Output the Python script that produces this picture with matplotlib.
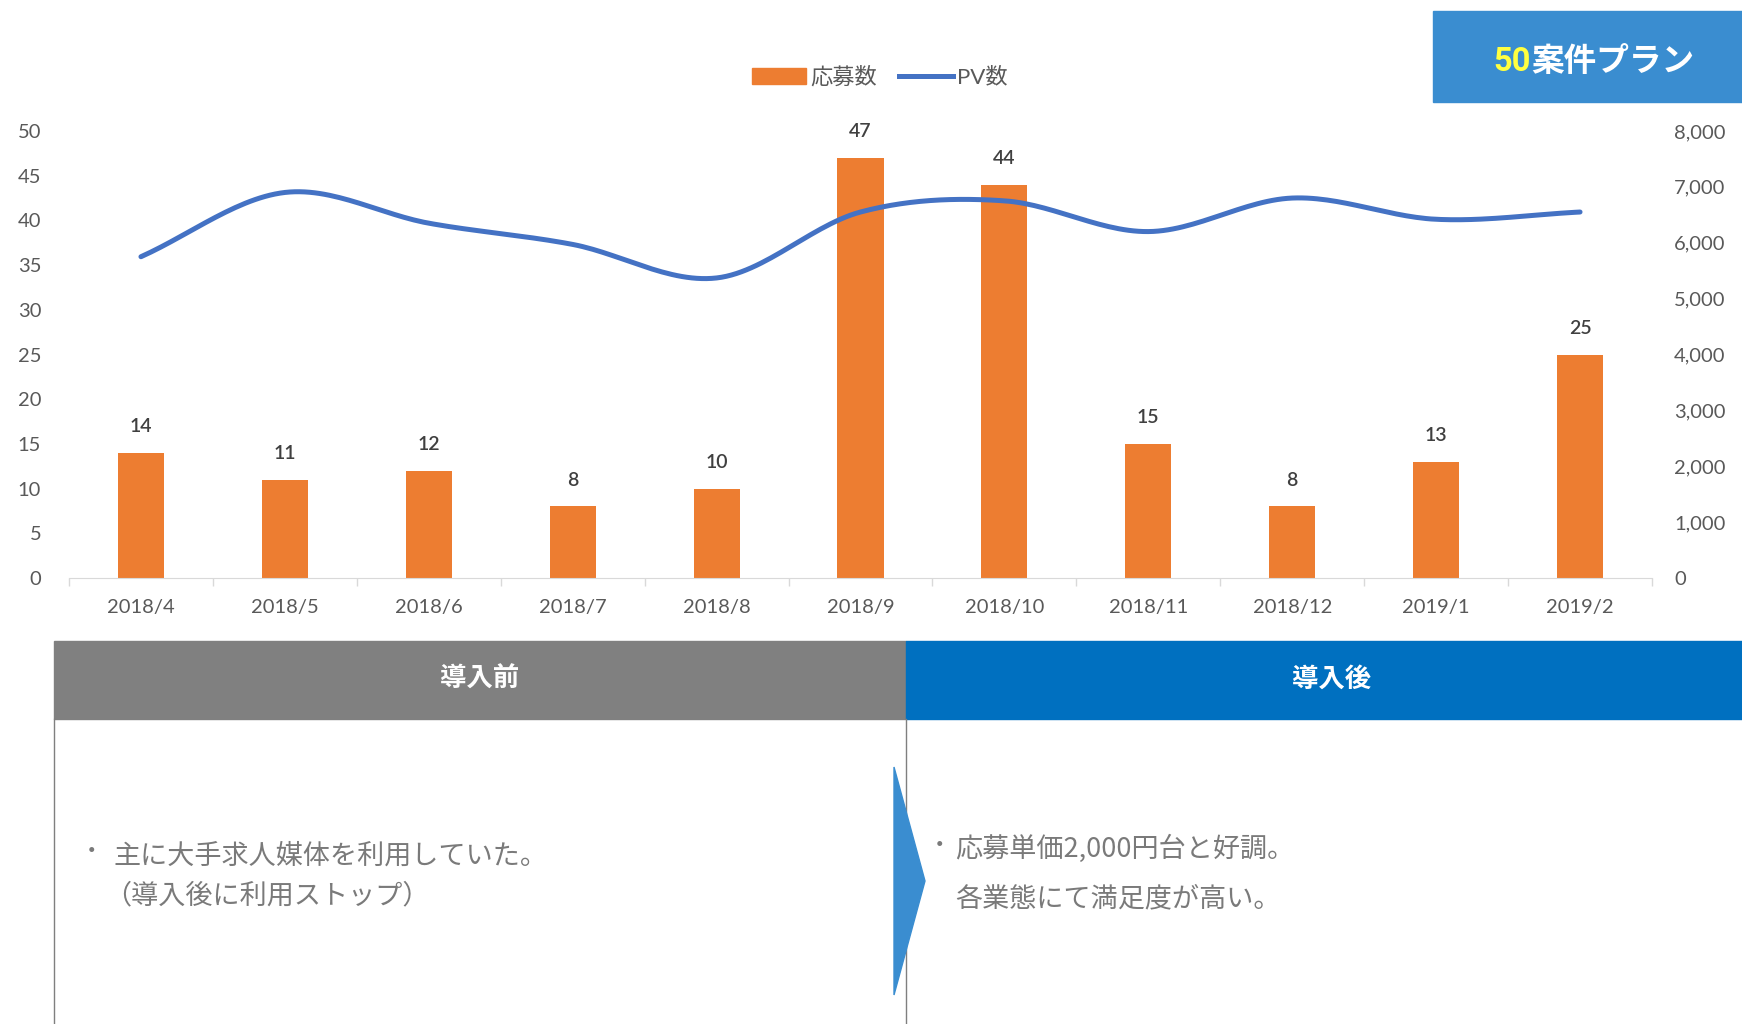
import numpy as np
import matplotlib
matplotlib.use("Agg")
import matplotlib.pyplot as plt
from matplotlib.patches import Rectangle, Polygon
from matplotlib.lines import Line2D
from matplotlib.ticker import FuncFormatter, FixedLocator

plt.rcParams['font.family'] = ['Lato', 'Noto Sans CJK JP', 'DejaVu Sans']

months = ["2018/4", "2018/5", "2018/6", "2018/7", "2018/8", "2018/9",
          "2018/10", "2018/11", "2018/12", "2019/1", "2019/2"]
applications = [14, 11, 12, 8, 10, 47, 44, 15, 8, 13, 25]
pageviews = [5750, 6900, 6350, 5970, 5370, 6550, 6750, 6200, 6800, 6420, 6550]
left_ticks = [0, 5, 10, 15, 20, 25, 30, 35, 40, 45, 50]
right_ticks = [0, 1000, 2000, 3000, 4000, 5000, 6000, 7000, 8000]

BAR_C = "#ED7D31"
LINE_C = "#4472C4"
TXT_C = "#595959"

W, H = 1742, 1024
fig = plt.figure(figsize=(W / 100, H / 100), dpi=100)

def fx(px):
    return px / W

def fy(py):
    return 1 - py / H

ax_l, ax_r, ax_b, ax_t = 69, 1652, 578, 131
ax = fig.add_axes([fx(ax_l), fy(ax_b), fx(ax_r - ax_l), fy(ax_t) - fy(ax_b)])
ax2 = ax.twinx()

x = np.arange(len(months))
ax.bar(x, applications, width=0.32, color=BAR_C, zorder=2)
for xi, v in zip(x, applications):
    ax.annotate(str(v), (xi, v), xytext=(0, 19), textcoords="offset points",
                ha="center", va="center", fontsize=14, color="#404040",
                fontweight="semibold")

ax.set_xlim(-0.5, len(months) - 0.5)
ax.set_ylim(0, 50)
ax.set_yticks(left_ticks)
ax.set_xticks(x)
ax.set_xticklabels(months)
ax.xaxis.set_minor_locator(FixedLocator(np.arange(-0.5, len(months), 1.0)))
ax.tick_params(axis="x", which="major", length=0, pad=15, labelsize=14.5, labelcolor=TXT_C)
ax.tick_params(axis="x", which="minor", length=6, color="#d9d9d9", width=1)
ax.tick_params(axis="y", length=0, pad=20, labelsize=14.5, labelcolor=TXT_C)
for s in ["top", "right", "left"]:
    ax.spines[s].set_visible(False)
ax.spines["bottom"].set_color("#d9d9d9")
ax.set_facecolor("none")

# smooth line (Catmull-Rom through the data points)
px = x.astype(float)
py = np.array(pageviews, dtype=float)
P = np.column_stack([px, py])
Pe = np.vstack([P[0] - (P[1] - P[0]), P, P[-1] + (P[-1] - P[-2])])
xs, ys = [], []
t = np.linspace(0, 1, 30)
for i in range(1, len(Pe) - 2):
    p0, p1, p2, p3 = Pe[i - 1], Pe[i], Pe[i + 1], Pe[i + 2]
    c = 0.5 * ((2 * p1)[None, :] + np.outer(t, (-p0 + p2)) +
               np.outer(t ** 2, (2 * p0 - 5 * p1 + 4 * p2 - p3)) +
               np.outer(t ** 3, (-p0 + 3 * p1 - 3 * p2 + p3)))
    xs.extend(c[:, 0]); ys.extend(c[:, 1])
ax2.plot(xs, ys, color=LINE_C, lw=3.6, solid_capstyle="round", zorder=3)
ax2.set_ylim(0, 8000)
ax2.set_yticks(right_ticks)
ax2.yaxis.set_major_formatter(FuncFormatter(lambda v, p: f"{int(v):,}"))
ax2.tick_params(axis="y", length=0, pad=16, labelsize=14.5, labelcolor=TXT_C)
for s in ["top", "right", "left", "bottom"]:
    ax2.spines[s].set_visible(False)

# legend
handles = [Rectangle((0, 0), 1, 1, color=BAR_C), Line2D([0], [0], color=LINE_C, lw=3.6)]
fig.legend(handles, ["応募数", "PV数"], loc="center", bbox_to_anchor=(fx(880), fy(77)),
           ncol=2, frameon=False, fontsize=16, handlelength=2.4, handleheight=0.7,
           columnspacing=1.0, handletextpad=0.2, labelcolor=TXT_C)

# top-right plan box
fig.add_artist(Rectangle((fx(1433), fy(102)), fx(1742 - 1433), fy(11) - fy(102),
                         transform=fig.transFigure, color="#3A8DD0", zorder=1))
t1 = fig.text(fx(1592), fy(62), "50", color="#FFFF40", fontsize=23.5, fontweight="bold",
              ha="right", va="center", family=['Roboto', 'Noto Sans CJK JP'])
t2 = fig.text(fx(1592), fy(62), "案件プラン", color="white", fontsize=23.5, fontweight="bold",
              ha="left", va="center", family=['Noto Sans CJK JP'])
fig.canvas.draw()
r = fig.canvas.get_renderer()
w1 = t1.get_window_extent(r).width
w2 = t2.get_window_extent(r).width
cx = 1594
t1.set_x(fx(cx - (w1 + w2) / 2 + w1))
t2.set_x(fx(cx - (w1 + w2) / 2 + w1))

# bottom table headers
fig.add_artist(Rectangle((fx(54), fy(719)), fx(906 - 54), fy(641) - fy(719),
                         transform=fig.transFigure, color="#808080", zorder=1))
fig.add_artist(Rectangle((fx(906), fy(719)), fx(1742 - 906), fy(641) - fy(719),
                         transform=fig.transFigure, color="#0070C0", zorder=1))
fig.text(fx(480), fy(679), "導入前", color="white", fontsize=19, fontweight="bold",
         ha="center", va="center", family=['Noto Sans CJK JP'])
fig.text(fx(1332), fy(679), "導入後", color="white", fontsize=19, fontweight="bold",
         ha="center", va="center", family=['Noto Sans CJK JP'])
for xx in [54, 906]:
    fig.add_artist(Line2D([fx(xx), fx(xx)], [fy(719), 0], transform=fig.transFigure,
                          color="#7f7f7f", lw=1))

# arrow
fig.add_artist(Polygon([[fx(894), fy(767)], [fx(925), fy(881)], [fx(894), fy(995)]],
                       closed=True, transform=fig.transFigure, color="#3A8DD0", zorder=2))

BODY_C = "#7a7a7a"
BF = 19.5
fig.text(fx(80), fy(852), "・", color=BODY_C, fontsize=17, ha="left", va="center",
         family=['Noto Sans CJK JP'])
fig.text(fx(113), fy(856), "主に大手求人媒体を利用していた。", color=BODY_C, fontsize=BF,
         ha="left", va="center", family=['Noto Sans CJK JP'])
fig.text(fx(104), fy(896), "（導入後に利用ストップ）", color=BODY_C, fontsize=BF,
         ha="left", va="center", family=['Noto Sans CJK JP'])
fig.text(fx(928), fy(846), "・", color=BODY_C, fontsize=17, ha="left", va="center",
         family=['Noto Sans CJK JP'])
fig.text(fx(955), fy(849), "応募単価2,000円台と好調。", color=BODY_C, fontsize=BF,
         ha="left", va="center", family=['Noto Sans CJK JP'])
fig.text(fx(955), fy(899), "各業態にて満足度が高い。", color=BODY_C, fontsize=BF,
         ha="left", va="center", family=['Noto Sans CJK JP'])

fig.savefig("out.png", dpi=100)
